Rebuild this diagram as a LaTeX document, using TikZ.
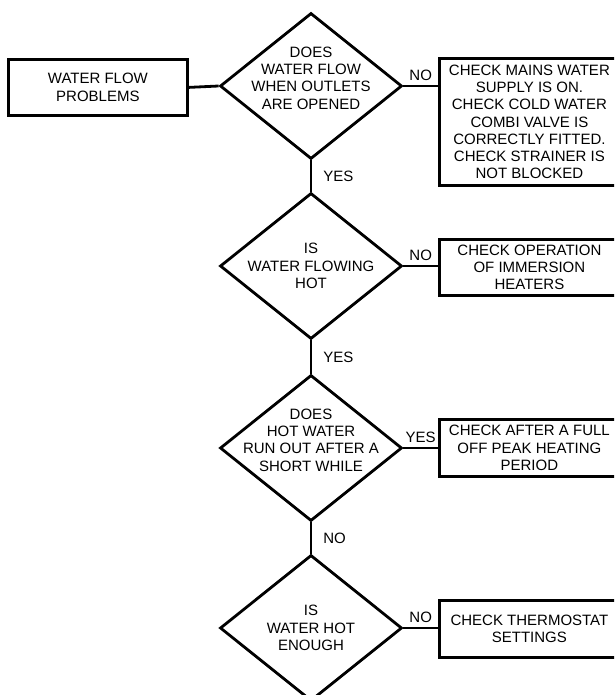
\documentclass[tikz,border=0pt]{standalone}
\usepackage{fontspec}
\setmainfont{Liberation Sans}
\usepackage{tikz}
\usetikzlibrary{shapes.geometric, positioning}

\begin{document}
\begin{tikzpicture}[x=1pt, y=-1pt, line width=2.8pt,
    txt/.style={font=\fontsize{15}{17.3}\selectfont, align=center, inner sep=0pt},
    decision/.style={draw, diamond, inner sep=0pt, minimum width=182pt, minimum height=146pt},
    action/.style={draw, rectangle, txt, minimum width=180pt, anchor=north west},
    lbl/.style={font=\fontsize{15}{17.3}\selectfont, inner sep=0pt}]
    \useasboundingbox (0,0) rectangle (614,695);
    \clip (0,0) rectangle (614,695);

    % start box
    \node[action, minimum width=179pt, minimum height=56pt] (start) at (7,58) {WATER FLOW\\PROBLEMS};

    % questions down the middle
    \node[decision] (d1) at (311,86) {};
    \node[txt, yshift=8pt] (q1) at (d1) {DOES\\WATER FLOW\\WHEN OUTLETS\\ARE OPENED};
    \node[decision] (d2) at (311,266) {};
    \node[txt] (q2) at (d2) {IS\\WATER FLOWING\\HOT};
    \node[decision] (d3) at (311,448) {};
    \node[txt, yshift=8pt] (q3) at (d3) {DOES\\HOT WATER\\RUN OUT AFTER A\\SHORT WHILE};
    \node[decision] (d4) at (311,628) {};
    \node[txt] (q4) at (d4) {IS\\WATER HOT\\ENOUGH};

    % checks on the right (cut off by the page edge)
    \node[action, minimum height=127pt] (b1) at (438,57) {CHECK MAINS WATER\\SUPPLY IS ON.\\CHECK COLD WATER\\COMBI VALVE IS\\CORRECTLY FITTED.\\CHECK STRAINER IS\\NOT BLOCKED};
    \node[action, minimum height=56pt] (b2) at (438,238) {CHECK OPERATION\\OF IMMERSION\\HEATERS};
    \node[action, minimum height=57pt] (b3) at (438,418) {CHECK AFTER A FULL\\OFF PEAK HEATING\\PERIOD};
    \node[action, minimum height=57pt] (b4) at (438,599) {CHECK THERMOSTAT\\SETTINGS};

    % connectors
    \draw (start.east) -- (d1.west);
    \draw (d1.east) -- (d1.east -| b1.west) node[midway, above=4pt, lbl] {NO};
    \draw (d2.east) -- (d2.east -| b2.west) node[midway, above=4pt, lbl] {NO};
    \draw (d3.east) -- (d3.east -| b3.west) node[midway, above=4pt, lbl] {YES};
    \draw (d4.east) -- (d4.east -| b4.west) node[midway, above=4pt, lbl] {NO};
    \draw (d1.south) -- (d2.north) node[midway, right=11pt, lbl] {YES};
    \draw (d2.south) -- (d3.north) node[midway, right=11pt, lbl] {YES};
    \draw (d3.south) -- (d4.north) node[midway, right=11pt, lbl] {NO};
\end{tikzpicture}
\end{document}
